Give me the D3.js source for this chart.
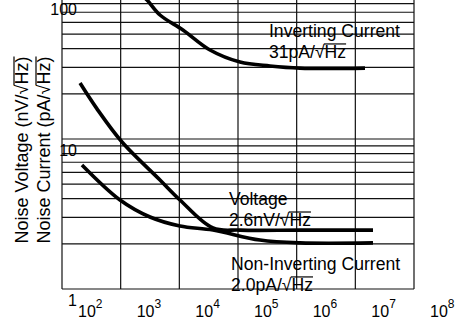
<!DOCTYPE html>
<html>
<head>
<meta charset="utf-8">
<script src="https://cdn.jsdelivr.net/npm/d3@7"></script>
<style>
  html, body { margin: 0; padding: 0; background: #fff; }
  svg { display: block; font-family: "Liberation Sans", Arial, Helvetica, sans-serif; }
</style>
</head>
<body>
<svg id="chart" width="461" height="321"></svg>
<script>
// ---- data ----
const xTickValues = [1e2, 1e3, 1e4, 1e5, 1e6, 1e7, 1e8];
const xTickExponents = [2, 3, 4, 5, 6, 7, 8];
const yTickValues = [1, 10, 100];
const yTickLabels = ["1", "10", "100"];
const yGridValues = [1, 2, 3, 4, 5, 6, 7, 8, 9, 10, 20, 30, 40, 50, 60, 70, 80, 90, 100];

const invFreq  = [2135, 2810, 4680, 11500, 33300, 108000, 351000, 1.14e6, 1.46e7];
const invNoise = [92.6, 84.5, 67.1, 53.3, 39.2, 32.6, 30.7, 29.7, 29.7];

const voltFreq  = [203, 390, 1054, 4680, 10250, 37500, 108000, 1.14e6, 2.0e7];
const voltNoise = [23.6, 16.0, 9.55, 5.33, 3.92, 2.55, 2.47, 2.47, 2.47];

const nonInvFreq  = [219, 975, 3160, 10250, 37500, 237000, 1.14e6, 2.0e7];
const nonInvNoise = [6.71, 3.92, 3.02, 2.63, 2.47, 2.12, 2.03, 2.03];

const yTitleLines = ["Noise Voltage (nV/\u221AHz)", "Noise Current (pA/\u221AHz)"];
const curveLabels = [
  {lines: ["Inverting Current", "31pA/\u221AHz"], f: 3.37e5, v: 47.9},
  {lines: ["Voltage", "2.6nV/\u221AHz"], f: 7.0e4, v: 3.63},
  {lines: ["Non-Inverting Current", "2.0pA/\u221AHz"], f: 7.6e4, v: 1.34}
];

// ---- scales ----
const svg = d3.select("#chart");
const x = d3.scaleLog().domain([1e2, 1e8]).range([62, 414]);
const y = d3.scaleLog().domain([1, 100]).range([289, -11]);

const ink = "#111";

// grid
const grid = svg.append("g");
grid.selectAll("line.h").data(yGridValues).join("line")
  .attr("x1", x(1e2)).attr("x2", x(1e8))
  .attr("y1", d => y(d)).attr("y2", d => y(d))
  .attr("stroke", ink).attr("stroke-width", 1.2);
grid.selectAll("line.v").data(xTickValues).join("line")
  .attr("y1", y(100)).attr("y2", y(1))
  .attr("x1", d => x(d)).attr("x2", d => x(d))
  .attr("stroke", ink).attr("stroke-width", 1.2);

// clip
svg.append("clipPath").attr("id", "plotclip").append("rect")
  .attr("x", x(1e2)).attr("y", y(100)).attr("width", x(1e8) - x(1e2)).attr("height", y(1) - y(100));

const line = d3.line().x(d => x(d[0])).y(d => y(d[1])).curve(d3.curveCatmullRom.alpha(0.5));
const series = [
  d3.zip(invFreq, invNoise),
  d3.zip(voltFreq, voltNoise),
  d3.zip(nonInvFreq, nonInvNoise)
];
svg.append("g").attr("clip-path", "url(#plotclip)")
  .selectAll("path").data(series).join("path")
  .attr("d", line).attr("fill", "none").attr("stroke", "#000")
  .attr("stroke-width", 3.6).attr("stroke-linecap", "butt");

// radical overline helper
function overline(textNode, parent, yTop) {
  const s = textNode.textContent;
  const i = s.indexOf("\u221A");
  if (i < 0) return;
  const start = textNode.getStartPositionOfChar(i);
  const ext = textNode.getExtentOfChar(i);
  const endPos = textNode.getEndPositionOfChar(s.length - 1);
  const sx = ext.x + ext.width - 0.5;
  parent.append("line")
    .attr("x1", sx).attr("x2", endPos.x)
    .attr("y1", start.y + yTop).attr("y2", start.y + yTop)
    .attr("stroke", "#000").attr("stroke-width", 1.2);
}

// curve labels
const lab = svg.append("g").attr("font-size", 17.6).attr("fill", "#000");
curveLabels.forEach(c => {
  c.lines.forEach((t, k) => {
    const tx = lab.append("text")
      .attr("x", x(c.f)).attr("y", y(c.v) + k * 21)
      .text(t);
    overline(tx.node(), lab, -14);
  });
});

// y tick labels
svg.append("g").selectAll("text").data(yTickValues).join("text")
  .attr("x", x(1e2) + 15).attr("y", d => Math.max(y(d) + 17, 15))
  .attr("text-anchor", "end").attr("font-size", 16)
  .text((d, i) => yTickLabels[i]);

// x tick labels
const xt = svg.append("g").selectAll("text").data(xTickValues).join("text")
  .attr("x", d => x(d) + 16).attr("y", 317).attr("font-size", 16);
xt.append("tspan").text("10");
xt.append("tspan").attr("dy", -9).attr("font-size", 12).text((d, i) => xTickExponents[i]);

// y axis title
yTitleLines.forEach((t, k) => {
  const g = svg.append("g").attr("transform", `translate(${28 + k * 22},150) rotate(-90)`);
  const tx = g.append("text").attr("text-anchor", "middle").attr("font-size", 18).text(t);
  overline(tx.node(), g, -14);
});
</script>
</body>
</html>
